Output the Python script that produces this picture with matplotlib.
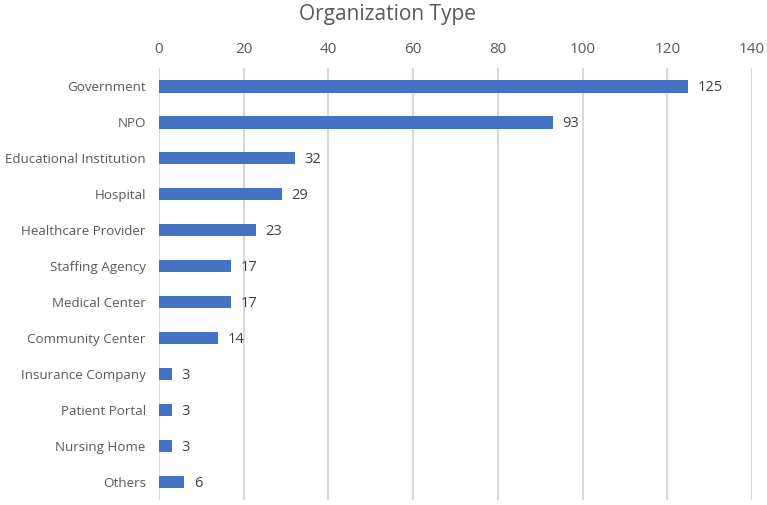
import matplotlib
matplotlib.use("Agg")
import matplotlib.pyplot as plt

categories = ["Government", "NPO", "Educational Institution", "Hospital",
              "Healthcare Provider", "Staffing Agency", "Medical Center",
              "Community Center", "Insurance Company", "Patient Portal",
              "Nursing Home", "Others"]
values = [125, 93, 32, 29, 23, 17, 17, 14, 3, 3, 3, 6]
xticks = [0, 20, 40, 60, 80, 100, 120, 140]

plt.rcParams['font.family'] = ['Open Sans', 'DejaVu Sans']
txt = '#595959'
fig = plt.figure(figsize=(7.67, 5.05), dpi=100)
ax = fig.add_axes([0.2073, 0.0099, 0.9804 - 0.2073, 0.8653 - 0.0099])

ypos = list(range(len(categories)))
ax.barh(ypos, values, height=0.36, color='#4472C4', zorder=3)
ax.set_ylim(len(categories) - 0.5, -0.5)
ax.set_xlim(0, 140)
ax.set_xticks(xticks)
ax.xaxis.tick_top()
ax.set_yticks(ypos)
ax.set_yticklabels(categories)
ax.tick_params(axis='x', length=0, colors=txt, labelsize=11, pad=8)
ax.tick_params(axis='y', length=0, colors=txt, labelsize=9.6, pad=9.5)
ax.grid(axis='x', color='#D9D9D9', linewidth=1.5, zorder=0)
for s in ax.spines.values():
    s.set_visible(False)
for y, v in zip(ypos, values):
    ax.text(v + 2.2, y + 0.03, str(v), va='center', ha='left', color='#404040', fontsize=10.5)

fig.text(0.505, 0.971, "Organization Type", ha='center', va='center',
         fontsize=15, color=txt)
fig.savefig("out.png", dpi=100)
